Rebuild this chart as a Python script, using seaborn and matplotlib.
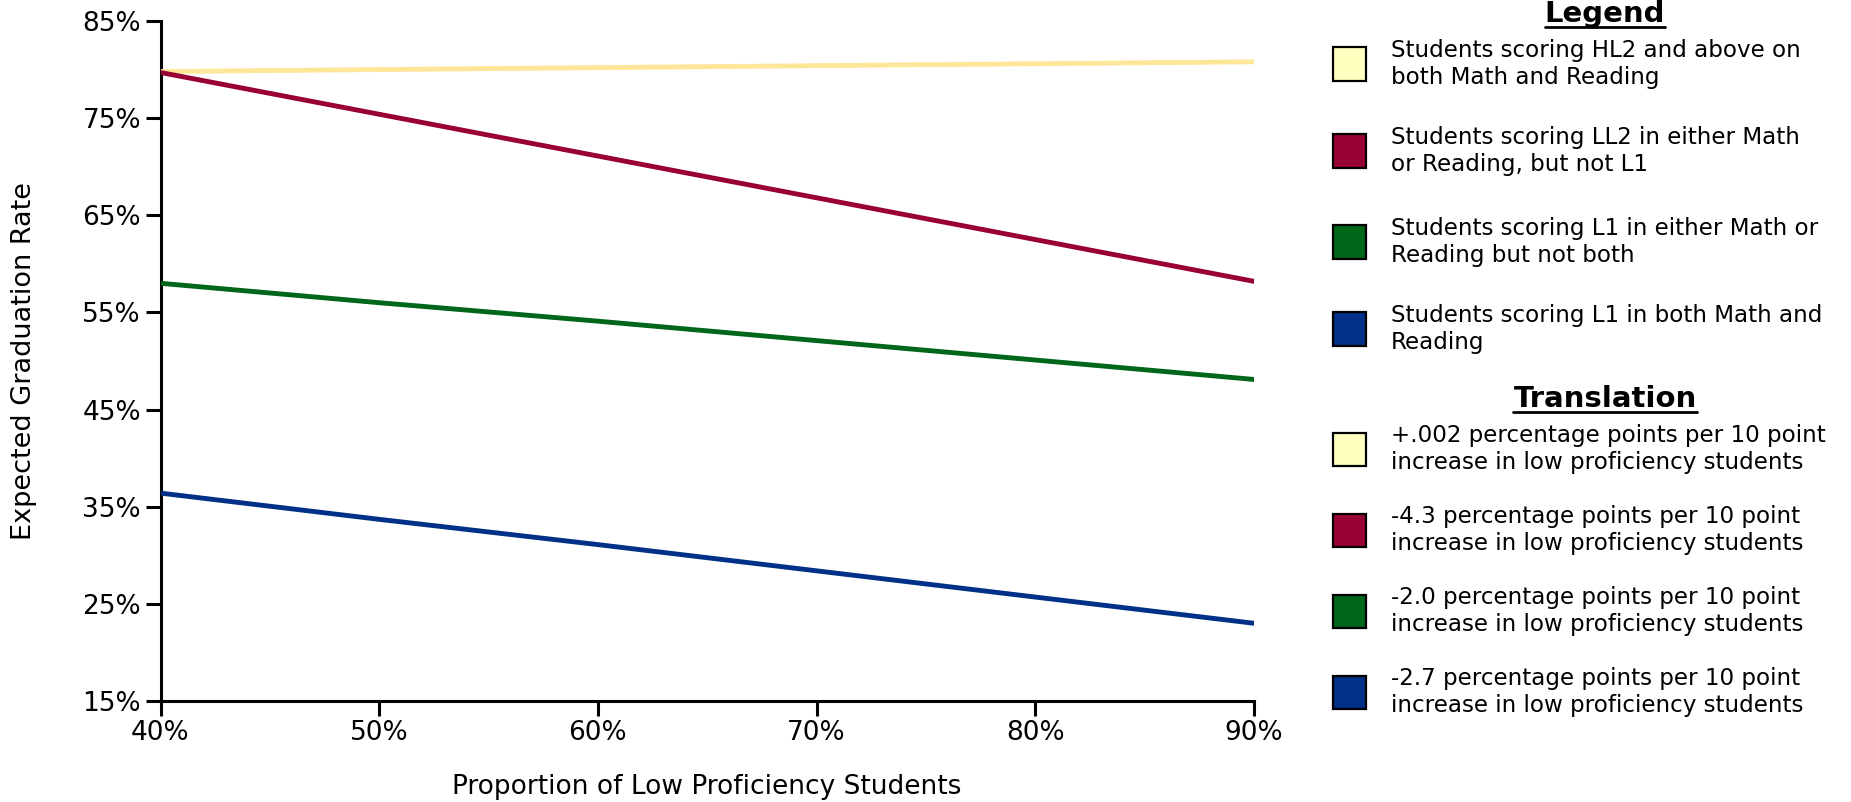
import numpy as np
import pandas as pd
import matplotlib
matplotlib.use("Agg")
import matplotlib.pyplot as plt
from matplotlib.patches import Rectangle
from matplotlib.lines import Line2D
import seaborn as sns

# ---- data ----
proportion = [40, 50, 60, 70, 80, 90]
hl2_above = [79.8, 80.0, 80.2, 80.4, 80.6, 80.8]
ll2_either = [79.7, 75.4, 71.1, 66.8, 62.5, 58.2]
l1_either = [58.0, 56.0, 54.1, 52.1, 50.1, 48.1]
l1_both = [36.4, 33.7, 31.1, 28.4, 25.7, 23.0]

series_names = ["HL2+", "LL2", "L1 either", "L1 both"]
legend_labels = [
    "Students scoring HL2 and above on\nboth Math and Reading",
    "Students scoring LL2 in either Math\nor Reading, but not L1",
    "Students scoring L1 in either Math or\nReading but not both",
    "Students scoring L1 in both Math and\nReading",
]
translation_labels = [
    "+.002 percentage points per 10 point\nincrease in low proficiency students",
    "-4.3 percentage points per 10 point\nincrease in low proficiency students",
    "-2.0 percentage points per 10 point\nincrease in low proficiency students",
    "-2.7 percentage points per 10 point\nincrease in low proficiency students",
]
x_ticks = [40, 50, 60, 70, 80, 90]
y_ticks = [15, 25, 35, 45, 55, 65, 75, 85]

line_colors = ["#FFE699", "#990033", "#006619", "#003087"]
box_colors = ["#FFFFC0", "#990033", "#006619", "#003087"]

df = pd.DataFrame({
    "x": proportion * 4,
    "y": hl2_above + ll2_either + l1_either + l1_both,
    "series": sum([[n] * len(proportion) for n in series_names], []),
})

sns.set_style("white")
plt.rcParams["font.family"] = ["DejaVu Sans"]

W, H = 1851, 802
fig = plt.figure(figsize=(W / 100, H / 100), dpi=100)
ax_l, ax_r, ax_t, ax_b = 160.5, 1254, 21, 701
ax = fig.add_axes([ax_l / W, 1 - ax_b / H, (ax_r - ax_l) / W, (ax_b - ax_t) / H])

sns.lineplot(data=df, x="x", y="y", hue="series", palette=dict(zip(series_names, line_colors)),
             linewidth=3.5, legend=False, ax=ax, solid_capstyle="round")

ax.set_xlim(40, 90)
ax.set_ylim(15, 85)
ax.set_xticks(x_ticks)
ax.set_xticklabels([f"{v}%" for v in x_ticks])
ax.set_yticks(y_ticks)
ax.set_yticklabels([f"{v}%" for v in y_ticks])
for s in ["top", "right"]:
    ax.spines[s].set_visible(False)
for s in ["left", "bottom"]:
    ax.spines[s].set_color("black")
    ax.spines[s].set_linewidth(2.2)
    ax.spines[s].set_zorder(0.5)
ax.tick_params(axis="both", direction="out", length=11, width=2.2, color="black",
               labelsize=19, pad=3, bottom=True, left=True, labelcolor="black")
ax.set_xlabel("Proportion of Low Proficiency Students", fontsize=19, color="black")
ax.set_ylabel("Expected Graduation Rate", fontsize=19.5, color="black")
# place axis labels at measured pixel positions
ax.xaxis.set_label_coords((707 - ax_l) / (ax_r - ax_l), (ax_b - 787) / (ax_b - ax_t))
ax.yaxis.set_label_coords((24 - ax_l) / (ax_r - ax_l), 0.5)
ax.xaxis.label.set_va("center")
ax.yaxis.label.set_va("center")
ax.patch.set_alpha(0)

# ---- custom legend ----
def fx(px):
    return px / W

def fy(py):
    return 1 - py / H

box_x0, box_size = 1333, 33
text_x = 1391
title_cx = 1605

def add_title(txt, cy):
    return fig.text(fx(title_cx), fy(cy), txt, ha="center", va="center",
                    fontsize=21, fontweight="bold", color="black")

t1 = add_title("Legend", 14)
t2 = add_title("Translation", 399)

centers_legend = [64, 151, 242, 329]
centers_trans = [449, 530, 611, 692]

for labels, centers in [(legend_labels, centers_legend), (translation_labels, centers_trans)]:
    for lab, c, col in zip(labels, centers, box_colors):
        fig.add_artist(Rectangle((fx(box_x0), fy(c + box_size / 2)), box_size / W, box_size / H,
                                 transform=fig.transFigure, facecolor=col, edgecolor="black",
                                 linewidth=1.6))
        fig.text(fx(text_x), fy(c), lab, ha="left", va="center", fontsize=16.6,
                 linespacing=1.25, color="black")

fig.canvas.draw()
r = fig.canvas.get_renderer()
for t in (t1, t2):
    bb = t.get_window_extent(renderer=r)
    yline = bb.y0 + 1
    fig.add_artist(Line2D([bb.x0 / W, bb.x1 / W], [yline / H, yline / H],
                          transform=fig.transFigure, color="black", linewidth=2))

fig.savefig("out.png", dpi=100)
